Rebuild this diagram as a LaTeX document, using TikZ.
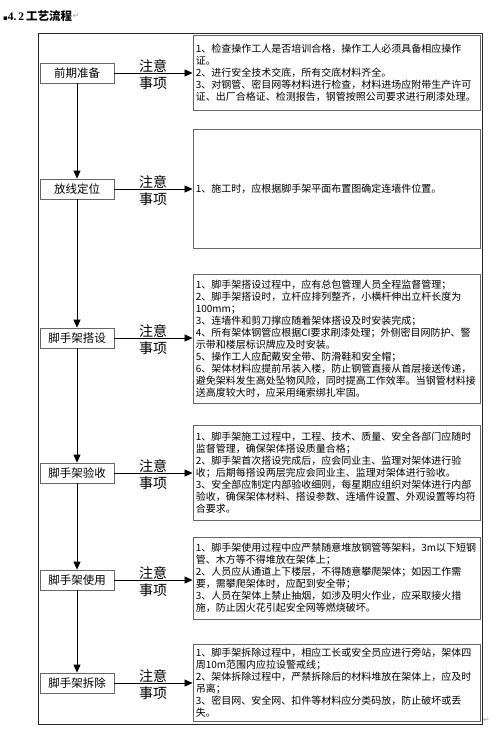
\documentclass[tikz,border=0pt]{standalone}
\usepackage{fontspec}
\setmainfont{Noto Sans CJK SC}
\newfontfamily\symfont{DejaVu Sans}
\newfontfamily\serifnum{Liberation Serif}
\usetikzlibrary{arrows.meta}
\begin{document}
\begin{tikzpicture}[x=1pt,y=-1pt,
  stage/.style={draw=black!60, line width=0.8pt, fill=white, minimum width=74pt, minimum height=20pt, inner sep=0pt, font=\fontsize{11.5}{13}\selectfont},
  notebox/.style={draw=black!60, line width=0.9pt, minimum width=287pt, inner sep=0pt},
  notetext/.style={anchor=west, align=left, inner sep=0pt, font=\fontsize{10}{12}\selectfont},
  attn/.style={align=center, inner sep=0pt, font=\fontsize{14}{17.5}\selectfont},
  flow/.style={-{Triangle[length=8pt,width=7pt]}, line width=0.8pt},
  pmark/.style={inner sep=0pt, text=black!35, font=\symfont\fontsize{8}{8}\selectfont},
]
\useasboundingbox[fill=white] (0,0) rectangle (500,733);

% title
\node[anchor=west, inner sep=0pt, font=\fontsize{11.5}{13}\selectfont\bfseries] (title) at (3,16)
  {{\symfont\fontsize{7}{7}\selectfont ▪}{\serifnum 4.\,2}\,工艺流程};
\node[pmark, anchor=west] (pm1) at (title.east) {↵};

% outer frame
\draw[line width=0.8pt, black!85] (38,33) rectangle (482,724);

% stages
\node[stage] (s1) at (77,73)  {前期准备};
\node[stage] (s2) at (77,189) {放线定位};
\node[stage] (s3) at (77,338) {脚手架搭设};
\node[stage] (s4) at (77,473) {脚手架验收};
\node[stage] (s5) at (77,580) {脚手架使用};
\node[stage] (s6) at (77,683) {脚手架拆除};

% note boxes
\node[notebox, minimum height=75pt, fill=white]  (n1) at (336.5,72.5) {};
\node[notebox, minimum height=119pt, fill=white] (n2) at (336.5,188.5) {};
\node[notebox, minimum height=129pt, fill=white] (n3) at (336.5,338.5) {};
\node[notebox, minimum height=95pt, fill=white]  (n4) at (336.5,472.5) {};
\node[notebox, minimum height=82pt, fill=white]  (n5) at (336.5,578) {};
\node[notebox, minimum height=77pt, fill=white]  (n6) at (336.5,682.5) {};

% note texts
\node[notetext] (t1) at ([xshift=3pt]n1.west) {1、检查操作工人是否培训合格，操作工人必须具备相应操作\\证。\\2、进行安全技术交底，所有交底材料齐全。\\3、对钢管、密目网等材料进行检查，材料进场应附带生产许可\\证、出厂合格证、检测报告，钢管按照公司要求进行刷漆处理。};
\node[notetext] (t2) at ([xshift=3pt]n2.west) {1、施工时，应根据脚手架平面布置图确定连墙件位置。};
\node[notetext] (t3) at ([xshift=3pt]n3.west) {1、脚手架搭设过程中，应有总包管理人员全程监督管理；\\2、脚手架搭设时，立杆应排列整齐，小横杆伸出立杆长度为\\100mm；\\3、连墙件和剪刀撑应随着架体搭设及时安装完成；\\4、所有架体钢管应根据CI要求刷漆处理；外侧密目网防护、警\\示带和楼层标识牌应及时安装。\\5、操作工人应配戴安全带、防滑鞋和安全帽；\\6、架体材料应提前吊装入楼，防止钢管直接从首层接送传递，\\避免架料发生高处坠物风险，同时提高工作效率。当钢管材料接\\送高度较大时，应采用绳索绑扎牢固。};
\node[notetext] (t4) at ([xshift=3pt]n4.west) {1、脚手架施工过程中，工程、技术、质量、安全各部门应随时\\监督管理，确保架体搭设质量合格；\\2、脚手架首次搭设完成后，应会同业主、监理对架体进行验\\收；后期每搭设两层完应会同业主、监理对架体进行验收。\\3、安全部应制定内部验收细则，每星期应组织对架体进行内部\\验收，确保架体材料、搭设参数、连墙件设置、外观设置等均符\\合要求。};
\node[notetext] (t5) at ([xshift=3pt]n5.west) {1、脚手架使用过程中应严禁随意堆放钢管等架料，3m以下短钢\\管、木方等不得堆放在架体上；\\2、人员应从通道上下楼层，不得随意攀爬架体；如因工作需\\要，需攀爬架体时，应配到安全带；\\3、人员在架体上禁止抽烟，如涉及明火作业，应采取接火措\\施，防止因火花引起安全网等燃烧破坏。};
\node[notetext] (t6) at ([xshift=3pt]n6.west) {1、脚手架拆除过程中，相应工长或安全员应进行旁站，架体四\\周10m范围内应拉设警戒线；\\2、架体拆除过程中，严禁拆除后的材料堆放在架体上，应及时\\吊离；\\3、密目网、安全网、扣件等材料应分类码放，防止破坏或丢\\失。};

\node[pmark, anchor=west] (pm2) at (483,720) {↵};

% vertical flow
\draw[flow] (s1.south) -- (s2.north);
\draw[flow] (s2.south) -- (s3.north);
\draw[flow] (s3.south) -- (s4.north);
\draw[flow] (s4.south) -- (s5.north);
\draw[flow] (s5.south) -- (s6.north);

% horizontal arrows with labels
\foreach \i in {1,...,6}{
  \draw[flow] (s\i.east) -- (s\i.east -| n\i.west);
  \node[attn] (a\i) at ([yshift=-1.75pt]s\i.east -| 153,0) {注意\\事项};
}
\end{tikzpicture}
\end{document}
